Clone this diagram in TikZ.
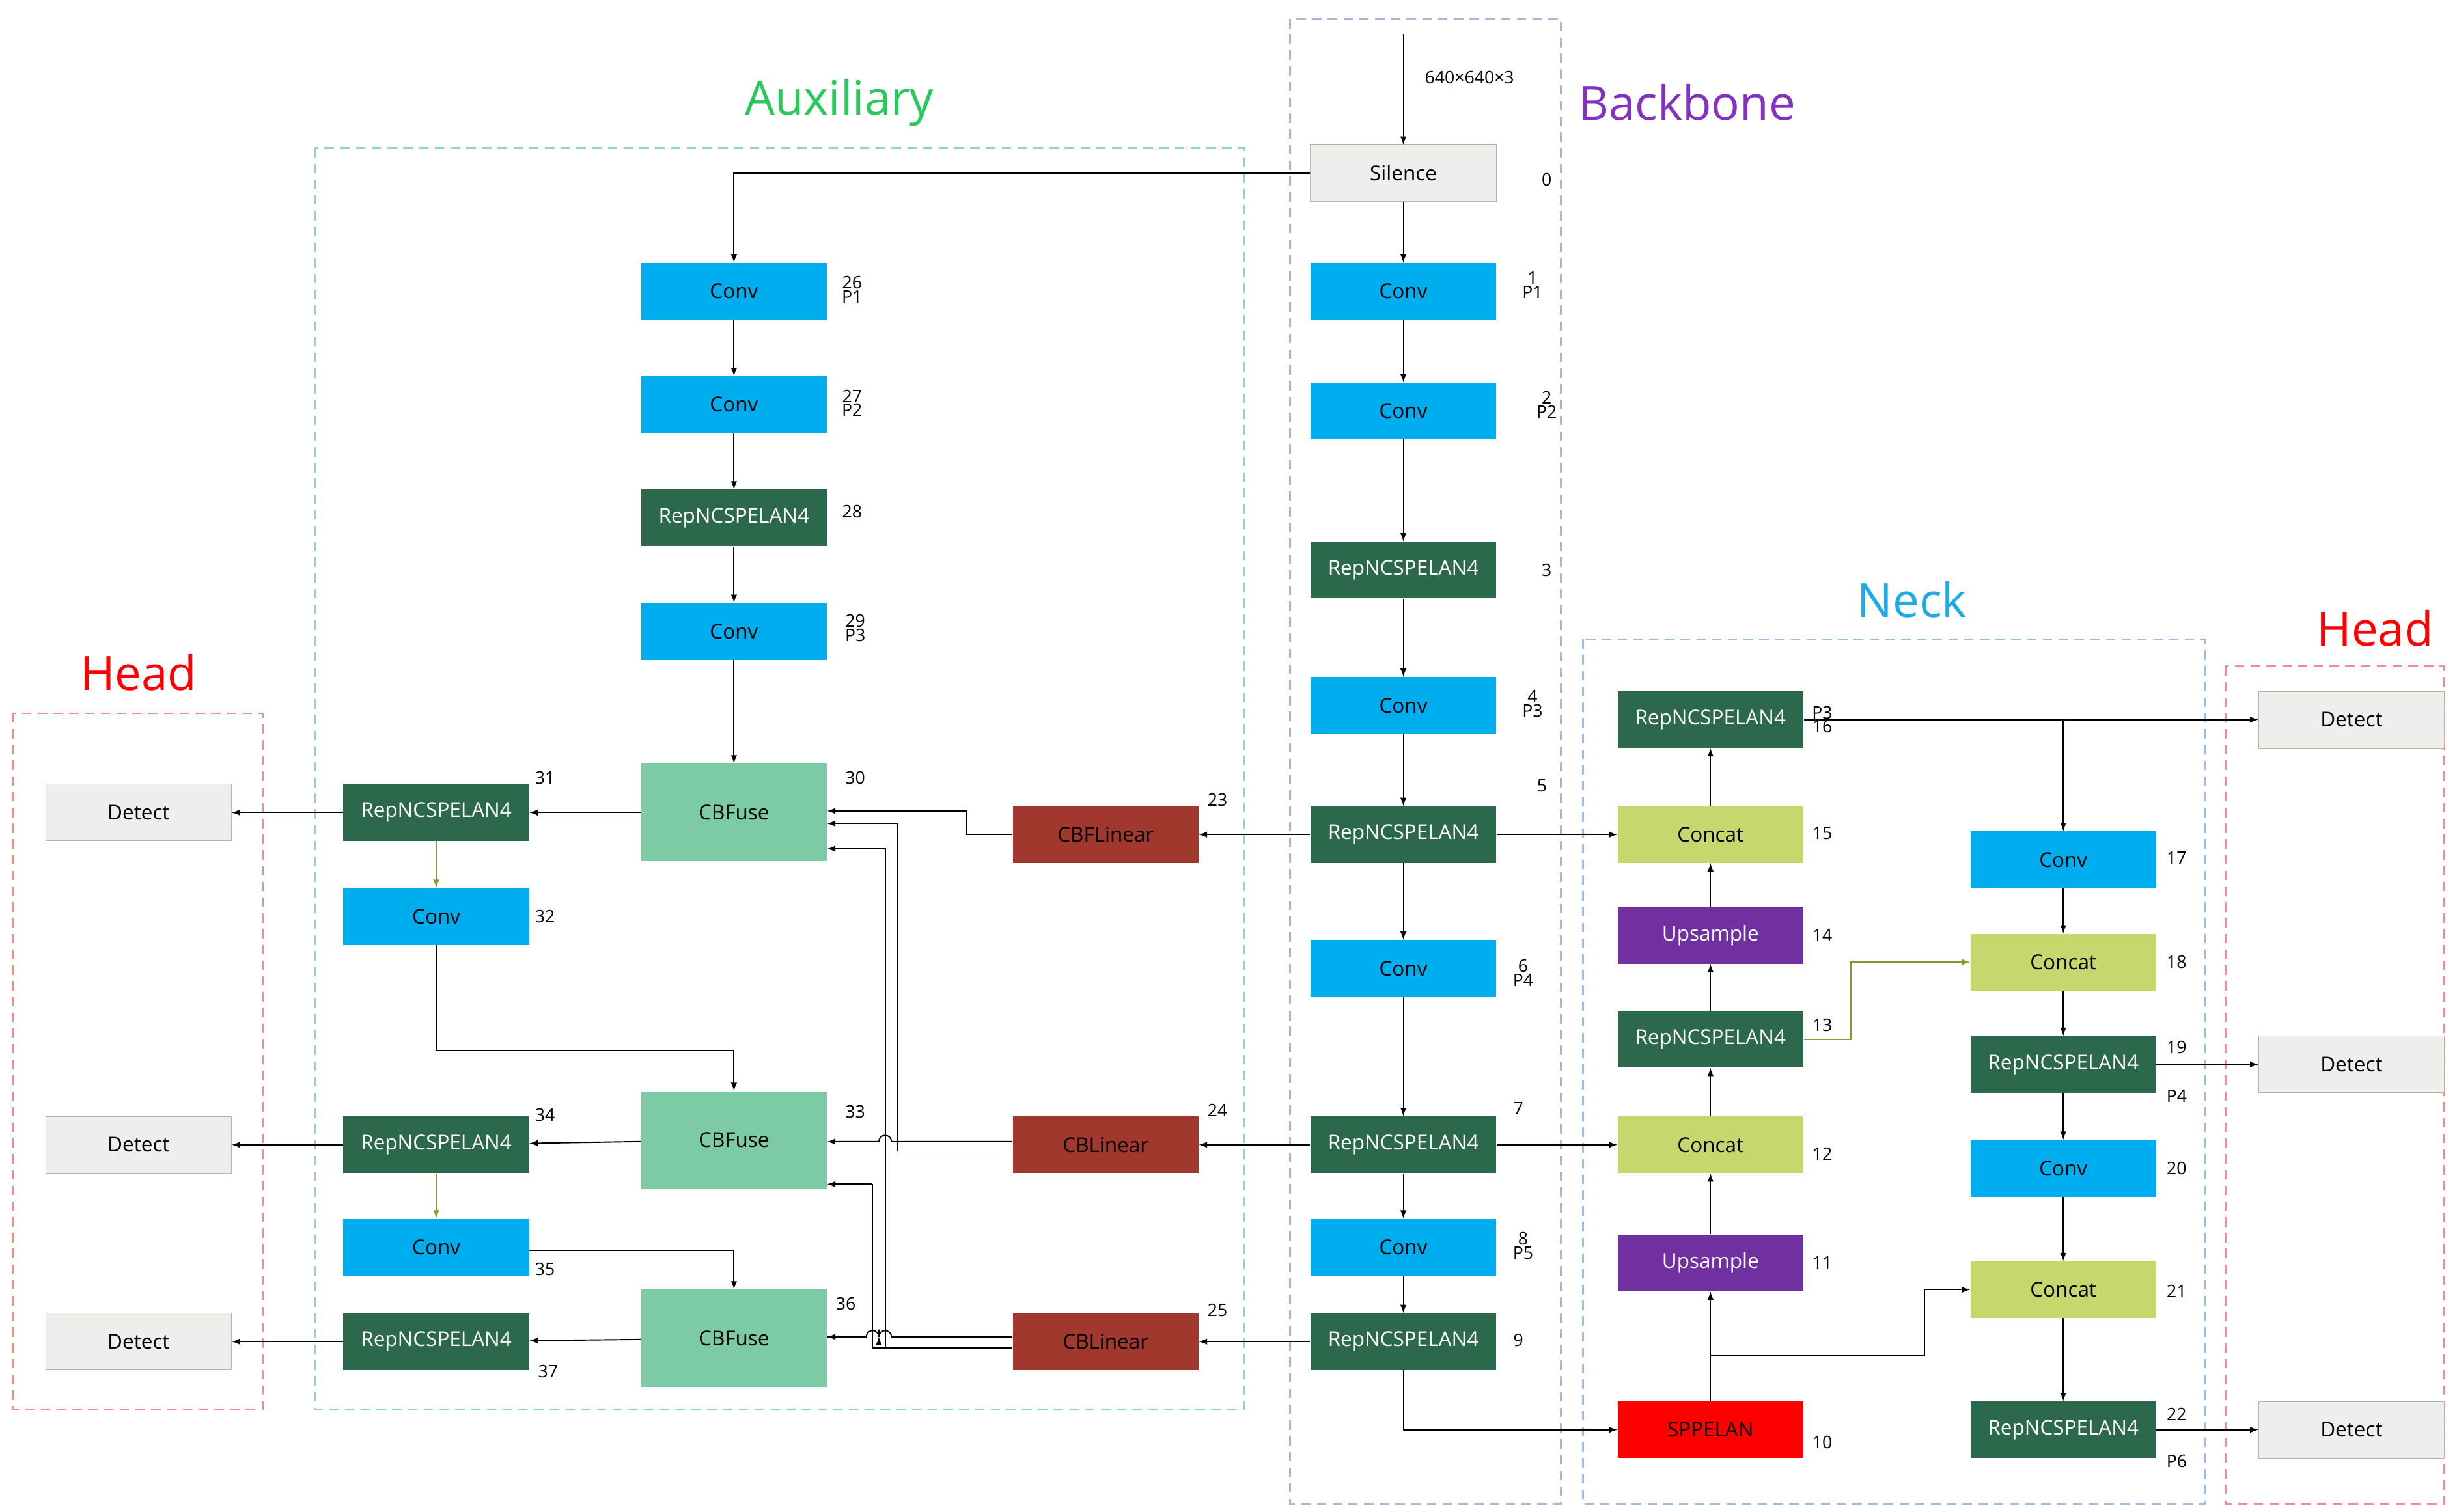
\documentclass[tikz,border=0pt]{standalone}
\usepackage{fontspec}
\setmainfont{Open Sans}
\begin{document}
\begin{tikzpicture}[x=1pt,y=-1pt,>=latex,
  blk/.style={draw=none,minimum width=118pt,minimum height=36pt,inner sep=0pt,font=\fontsize{13}{14}\selectfont},
  conv/.style={blk,fill={rgb,255:red,0;green,174;blue,239}},
  rep/.style={blk,fill={rgb,255:red,44;green,104;blue,76}},
  fuse/.style={blk,fill={rgb,255:red,125;green,203;blue,164},minimum height=62pt},
  lin/.style={blk,fill={rgb,255:red,160;green,56;blue,46}},
  cat/.style={blk,fill={rgb,255:red,197;green,216;blue,109}},
  ups/.style={blk,fill={rgb,255:red,112;green,48;blue,160}},
  spp/.style={blk,fill=red},
  gray/.style={blk,fill={rgb,255:red,238;green,238;blue,236},draw={rgb,255:red,180;green,180;blue,160}},
  lab/.style={font=\fontsize{11}{12}\selectfont,fill=white,inner sep=1.5pt,align=center},
  ttl/.style={font=\fontsize{30}{32}\selectfont},
  frame/.style={dashed,line width=1pt,dash pattern=on 6pt off 4pt},
  ar/.style={->,line width=0.8pt},
  ln/.style={line width=0.8pt}]
\useasboundingbox (0,0) rectangle (1560,960);
% frames
\draw[frame,draw={rgb,255:red,140;green,220;blue,170}] (200,94) rectangle (790,895);
\draw[frame,draw={rgb,255:red,190;green,170;blue,225}] (819,12) rectangle (991,955);
\draw[frame,draw={rgb,255:red,150;green,190;blue,235}] (1005,406) rectangle (1400,955);
\draw[frame,draw={rgb,255:red,245;green,140;blue,140}] (8,453) rectangle (167,895);
\draw[frame,draw={rgb,255:red,245;green,140;blue,140}] (1413,423) rectangle (1552,955);
\node[ttl,text={rgb,255:red,40;green,200;blue,90}] (tA) at (533,65) {Auxiliary};
\node[ttl,text={rgb,255:red,130;green,50;blue,190}] (tB) at (1071,65) {Backbone};
\node[ttl,text={rgb,255:red,30;green,170;blue,230}] (tN) at (1214,381) {Neck};
\node[ttl,text=red] (tH1) at (88,427) {Head};
\node[ttl,text=red] (tH2) at (1508,399) {Head};
% backbone
\coordinate (in) at (891,22);
\node[gray] (b0) at (891,110) {Silence};
\node[conv] (b1) at (891,185) {Conv};
\node[conv] (b2) at (891,261) {Conv};
\node[rep,text=white] (b3) at (891,362) {RepNCSPELAN4};
\node[conv] (b4) at (891,448) {Conv};
\node[rep,text=white] (b5) at (891,530) {RepNCSPELAN4};
\node[conv] (b6) at (891,615) {Conv};
\node[rep,text=white] (b7) at (891,727) {RepNCSPELAN4};
\node[conv] (b8) at (891,792) {Conv};
\node[rep,text=white] (b9) at (891,852) {RepNCSPELAN4};
% auxiliary
\node[conv] (a26) at (466,185) {Conv};
\node[conv] (a27) at (466,257) {Conv};
\node[rep,text=white] (a28) at (466,329) {RepNCSPELAN4};
\node[conv] (a29) at (466,401) {Conv};
\node[fuse] (a30) at (466,516) {CBFuse};
\node[fuse] (a33) at (466,724) {CBFuse};
\node[fuse] (a36) at (466,850) {CBFuse};
\node[lin] (l23) at (702,530) {CBFLinear};
\node[lin] (l24) at (702,727) {CBLinear};
\node[lin] (l25) at (702,852) {CBLinear};
\node[rep,text=white] (a31) at (277,516) {RepNCSPELAN4};
\node[conv] (a32) at (277,582) {Conv};
\node[rep,text=white] (a34) at (277,727) {RepNCSPELAN4};
\node[conv] (a35) at (277,792) {Conv};
\node[rep,text=white] (a37) at (277,852) {RepNCSPELAN4};
\node[gray] (d1) at (88,516) {Detect};
\node[gray] (d2) at (88,727) {Detect};
\node[gray] (d3) at (88,852) {Detect};
% neck
\node[rep,text=white] (n16) at (1086,457) {RepNCSPELAN4};
\node[cat] (n15) at (1086,530) {Concat};
\node[ups,text=white] (n14) at (1086,594) {Upsample};
\node[rep,text=white] (n13) at (1086,660) {RepNCSPELAN4};
\node[cat] (n12) at (1086,727) {Concat};
\node[ups,text=white] (n11) at (1086,802) {Upsample};
\node[spp] (n10) at (1086,908) {SPPELAN};
\node[conv] (n17) at (1310,546) {Conv};
\node[cat] (n18) at (1310,611) {Concat};
\node[rep,text=white] (n19) at (1310,676) {RepNCSPELAN4};
\node[conv] (n20) at (1310,742) {Conv};
\node[cat] (n21) at (1310,819) {Concat};
\node[rep,text=white] (n22) at (1310,908) {RepNCSPELAN4};
\node[gray] (d4) at (1493,457) {Detect};
\node[gray] (d5) at (1493,676) {Detect};
\node[gray] (d6) at (1493,908) {Detect};
% labels
\node[lab] (L0) at (982,114) {0};
\node[lab] (L1) at (973,181) {1\\[-3pt]P1};
\node[lab] (L2) at (982,257) {2\\[-3pt]P2};
\node[lab] (L3) at (982,362) {3};
\node[lab] (L4) at (973,447) {4\\[-3pt]P3};
\node[lab] (L5) at (979,499) {5};
\node[lab] (L6) at (967,618) {6\\[-3pt]P4};
\node[lab] (L7) at (964,704) {7};
\node[lab] (L8) at (967,791) {8\\[-3pt]P5};
\node[lab] (L9) at (964,851) {9};
\node[lab] (L26) at (541,184) {26\\[-3pt]P1};
\node[lab] (L27) at (541,256) {27\\[-3pt]P2};
\node[lab] (L28) at (541,325) {28};
\node[lab] (L29) at (543,399) {29\\[-3pt]P3};
\node[lab] (L30) at (543,494) {30};
\node[lab] (L23) at (773,508) {23};
\node[lab] (L24) at (773,705) {24};
\node[lab] (L25) at (773,832) {25};
\node[lab] (L33) at (543,706) {33};
\node[lab] (L36) at (537,828) {36};
\node[lab] (L31) at (346,494) {31};
\node[lab] (L32) at (346,582) {32};
\node[lab] (L34) at (346,708) {34};
\node[lab] (L35) at (346,806) {35};
\node[lab] (L37) at (348,871) {37};
\node[lab] (L16) at (1157,457) {P3\\[-3pt]16};
\node[lab] (L15) at (1157,529) {15};
\node[lab] (L14) at (1157,594) {14};
\node[lab] (L13) at (1157,651) {13};
\node[lab] (L12) at (1157,733) {12};
\node[lab] (L11) at (1157,802) {11};
\node[lab] (L10) at (1157,916) {10};
\node[lab] (L17) at (1382,545) {17};
\node[lab] (L18) at (1382,611) {18};
\node[lab] (L19a) at (1382,665) {19};
\node[lab] (L19b) at (1382,696) {P4};
\node[lab] (L20) at (1382,742) {20};
\node[lab] (L21) at (1382,820) {21};
\node[lab] (L22a) at (1382,898) {22};
\node[lab] (L22b) at (1382,928) {P6};
\node[font=\fontsize{11}{12}\selectfont] (inl) at (933,49) {640×640×3};
% backbone arrows
\draw[ar] (in) -- (b0);
\foreach \a/\b in {b0/b1,b1/b2,b2/b3,b3/b4,b4/b5,b5/b6,b6/b7,b7/b8,b8/b9,a26/a27,a27/a28,a28/a29,a29/a30}
  \draw[ar] (\a) -- (\b);
\draw[ar] (b0.west) -| (a26.north);
\draw[ar] (b5) -- (l23); \draw[ar] (b7) -- (l24); \draw[ar] (b9) -- (l25);
\draw[ar] (b5) -- (n15); \draw[ar] (b7) -- (n12);
\draw[ar] (b9.south) |- (n10.west);
% CB connections
\draw[ar] (l23.west) -- (614,530) -- (614,515) -- (a30.east |- 0,515);
\draw[ar] (l24.west |- 0,731) -- (570,731) -- (570,523) -- (a30.east |- 0,523);
\draw[ar] (l25.west |- 0,856) -- (562,856) -- (562,539) -- (a30.east |- 0,539);
\draw[ln] (562,856) -- (554,856) -- (554,752);
\draw[ar] (554,752) -- (a33.east |- 0,752);
\draw[ar] (l24.west |- 0,725) -- (566,725) arc[start angle=0,end angle=-180,radius=4] -- (a33.east |- 0,725);
\draw[ar] (l25.west |- 0,849) -- (566,849) arc[start angle=0,end angle=-180,radius=4] -- (558,849) -- (558,849) -- (558,849) -- (558,849) -- (558,849) -- (558,849);
\draw[ln] (558,849) arc[start angle=0,end angle=-180,radius=4] -- (a36.east |- 0,849);
\draw[ar] (529,849) -- (a36.east |- 0,849);
% left column
\draw[ar] (a30) -- (a31); \draw[ar] (a31) -- (d1);
\draw[ar] (a33) -- (a34); \draw[ar] (a34) -- (d2);
\draw[ar] (a36) -- (a37); \draw[ar] (a37) -- (d3);
\draw[ar,draw={rgb,255:red,140;green,150;blue,40}] (a31) -- (a32);
\draw[ar,draw={rgb,255:red,140;green,150;blue,40}] (a34) -- (a35);
\draw[ar] (a32.south) -- (277,667) -| (a33.north);
\draw[ar] (a35.east |- 0,794) -| (a36.north);
% neck
\draw[ar] (n10) -- (n11); \draw[ar] (n11) -- (n12); \draw[ar] (n12) -- (n13);
\draw[ar] (n13) -- (n14); \draw[ar] (n14) -- (n15); \draw[ar] (n15) -- (n16);
\draw[ar,draw={rgb,255:red,140;green,150;blue,40}] (n13.east) -- (1175,660) |- (n18.west);
\draw[ar] (1086,861) -- (1222,861) |- (n21.west);
\draw[ar] (n16) -- (d4);
\draw[ar] (1310,457) -- (n17);
\foreach \a/\b in {n17/n18,n18/n19,n19/n20,n20/n21,n21/n22} \draw[ar] (\a) -- (\b);
\draw[ar] (n19) -- (d5); \draw[ar] (n22) -- (d6);
\end{tikzpicture}
\end{document}
